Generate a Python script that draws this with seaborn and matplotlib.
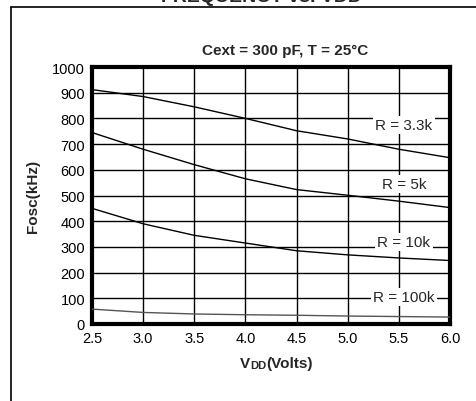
import numpy as np
import pandas as pd
import matplotlib
matplotlib.use("Agg")
import matplotlib.pyplot as plt
import seaborn as sns
from matplotlib.lines import Line2D

# Dữ liệu
vdd = [2.5, 3.0, 3.5, 4.0, 4.5, 5.0, 5.5, 6.0]
f_3k3 = [912, 885, 845, 800, 752, 720, 680, 647]
f_5k = [745, 680, 620, 565, 523, 501, 478, 453]
f_10k = [450, 390, 345, 315, 285, 269, 257, 247]
f_100k = [58, 45, 39, 36, 34, 31, 29, 27]
labels = ["R = 3.3k", "R = 5k", "R = 10k", "R = 100k"]
label_y = [775, 545, 320, 105]
x_ticks = [2.5, 3.0, 3.5, 4.0, 4.5, 5.0, 5.5, 6.0]
y_ticks = [0, 100, 200, 300, 400, 500, 600, 700, 800, 900, 1000]

df = pd.DataFrame({"VDD": vdd * 4,
                   "Fosc": f_3k3 + f_5k + f_10k + f_100k,
                   "R": sum([[l] * len(vdd) for l in labels], [])})

sns.set_style("white")
plt.rcParams["font.family"] = ["Liberation Sans", "DejaVu Sans"]

fig = plt.figure(figsize=(4.76, 4.02), dpi=100)
ax = fig.add_axes([92 / 476, 77 / 402, 358 / 476, 257 / 402])

# Lưới
for yt in y_ticks:
    ax.axhline(yt, color="black", lw=1.0, zorder=1)
for xt in x_ticks:
    ax.axvline(xt, color="black", lw=1.0, zorder=1)

sns.lineplot(data=df, x="VDD", y="Fosc", hue="R",
             palette=["black", "black", "black", "#555555"],
             lw=1.0, legend=False, ax=ax, zorder=3)

for lab, ly in zip(labels, label_y):
    ax.text(5.55, ly, lab, ha="center", va="center", fontsize=11, zorder=4,
            bbox=dict(facecolor="white", edgecolor="none", pad=1.5))

ax.set_xlim(2.5, 6.0)
ax.set_ylim(0, 1000)
ax.set_xticks(x_ticks)
ax.set_xticklabels([f"{x:.1f}" for x in x_ticks])
ax.set_yticks(y_ticks)
ax.tick_params(length=0, labelsize=10.5, pad=5, colors="black")
for s in ax.spines.values():
    s.set_linewidth(3)
    s.set_color("black")
    s.set_visible(True)
ax.set_xlabel("")
ax.set_ylabel("Fosc(kHz)", fontsize=11, fontweight="bold", labelpad=9)
ax.set_title("Cext = 300 pF, T = 25°C", fontsize=11, fontweight="bold", pad=9, x=0.54)

# Nhãn trục x: V + DD (chữ nhỏ) + (Volts)
t1 = fig.text(240 / 476, 1 - 368 / 402, "V", fontsize=11, fontweight="bold", va="baseline")
t2 = ax.annotate("DD", xy=(1, 0), xycoords=t1, fontsize=8, fontweight="bold", va="bottom")
ax.annotate("(Volts)", xy=(1, 0), xycoords=t2, fontsize=11, fontweight="bold", va="bottom")

# Khung ngoài và tiêu đề bị cắt (như trong hình gốc)
fig.add_artist(Line2D([11 / 476, 1.0], [1 - 8 / 402, 1 - 8 / 402], color="black", lw=1.2))
fig.add_artist(Line2D([11 / 476, 11 / 476], [0, 1 - 8 / 402], color="black", lw=1.2))
fig.text(0.55, 1 - 1.5 / 402, "FREQUENCY vs. VDD", ha="center", va="baseline",
         fontsize=14, fontweight="bold")

fig.savefig("out.png", dpi=100)
